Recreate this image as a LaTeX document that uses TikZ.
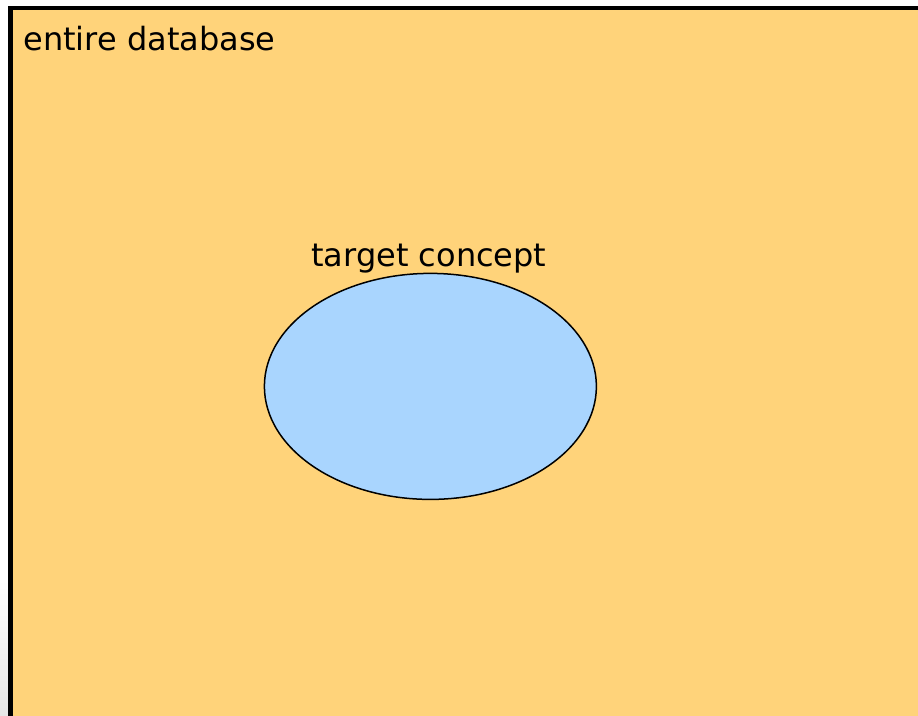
\documentclass[tikz,border=0pt]{standalone}
\usepackage{fontspec}
\setmainfont{DejaVu Sans}
\usetikzlibrary{shapes.geometric}
\definecolor{dbfill}{HTML}{FFD37A}
\definecolor{conceptfill}{HTML}{A9D5FE}
\definecolor{shadowgray}{HTML}{E6E6E6}
\tikzset{
  label text/.style={inner sep=0pt, anchor=base west, font=\fontsize{16pt}{19pt}\selectfont, text=black},
  region/.style={fill=dbfill, draw=none},
  frame/.style={draw=black, line width=2.2pt, line cap=rect},
  concept shape/.style={ellipse, draw=black, line width=0.75pt, fill=conceptfill,
    minimum width=166pt, minimum height=113pt, inner sep=0pt},
}
\begin{document}
\begin{tikzpicture}[x=0.5pt, y=-0.5pt]
  \useasboundingbox (0,0) rectangle (918,716);
  \clip (0,0) rectangle (918,716);
  \fill[white] (0,0) rectangle (918,716);
  % soft shadow along the lower left edge
  \shade[top color=white, bottom color=shadowgray] (0,580) rectangle (9,716);
  % the whole database: open to the right and bottom
  \fill[region] (10.5,8) rectangle (930,730);
  \coordinate (dbtopright) at (930,8);
  \coordinate (dbcorner) at (10.5,8);
  \coordinate (dbbottomleft) at (10.5,730);
  \draw[frame] (dbbottomleft) -- (dbcorner) -- (dbtopright);
  \node[label text] (dblabel) at (23,51) {entire database};
  % the target concept
  \node[concept shape] (concept) at (430.4,386.4) {};
  \node[label text] (conceptlabel) at (311,267) {target concept};
\end{tikzpicture}
\end{document}
